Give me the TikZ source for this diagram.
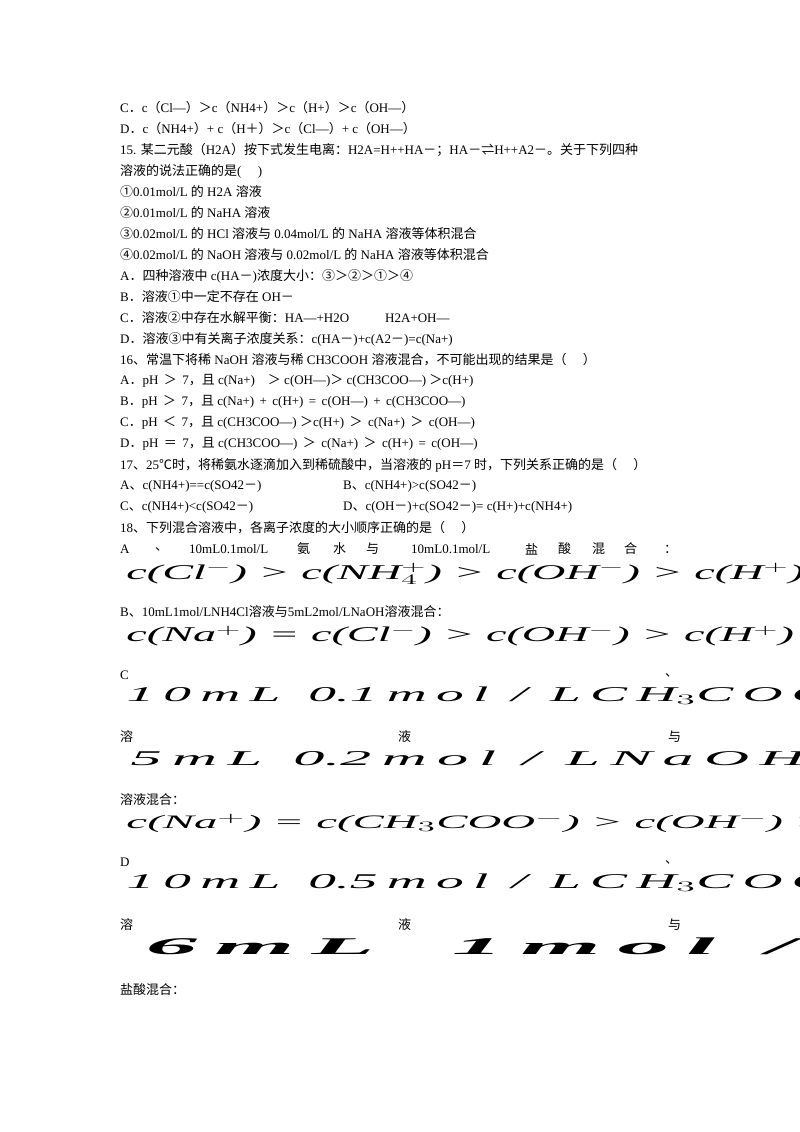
\documentclass[tikz,border=0pt]{standalone}
\usepackage{fontspec}
\setmainfont{Liberation Serif}
\newfontfamily\zh{Noto Sans CJK SC}
\XeTeXinterchartokenstate=1
\newXeTeXintercharclass\CJKcls
\newcount\cc
\def\setrange#1#2{\cc=#1\relax\loop\XeTeXcharclass\cc=\CJKcls\relax\ifnum\cc<#2\advance\cc by 1\repeat}
\setrange{"3000}{"303F}
\setrange{"4E00}{"9FFF}
\setrange{"FF00}{"FFEF}
\setrange{"2460}{"24FF}
\XeTeXcharclass"2103=\CJKcls
\XeTeXcharclass"21CC=\CJKcls
\XeTeXinterchartoks 0 \CJKcls = {\begingroup\zh}
\XeTeXinterchartoks 4095 \CJKcls = {\begingroup\zh}
\XeTeXinterchartoks \CJKcls 0 = {\endgroup}
\XeTeXinterchartoks \CJKcls 4095 = {\endgroup}
\begin{document}
\begin{tikzpicture}[x=1pt,y=-1pt,
  tl/.style={anchor=west,inner sep=0pt,font=\fontsize{13}{13}\selectfont},
  big/.style={anchor=west,inner sep=0pt,font=\fontsize{21}{21}\selectfont\itshape,xscale=2.2}]
\useasboundingbox (0,0) rectangle (800,1132);
\fill[white] (0,0) rectangle (800,1132);
\clip (0,0) rectangle (800,1132);
\node[tl] (l1) at (120,108) {C．c（Cl—）＞c（NH4+）＞c（H+）＞c（OH—）};
\node[tl] (l2) at (120,129) {D．c（NH4+）+ c（H＋）＞c（Cl—）+ c（OH—）};
\node[tl] (l3) at (120,150) {15. 某二元酸（H2A）按下式发生电离：H2A=H++HA－；HA－⇌H++A2－。关于下列四种};
\node[tl] (l4) at (120,171) {溶液的说法正确的是(\quad\ )};
\node[tl] (l5) at (120,192) {①0.01mol/L 的 H2A 溶液};
\node[tl] (l6) at (120,213) {②0.01mol/L 的 NaHA 溶液};
\node[tl] (l7) at (120,234) {③0.02mol/L 的 HCl 溶液与 0.04mol/L 的 NaHA 溶液等体积混合};
\node[tl] (l8) at (120,255) {④0.02mol/L 的 NaOH 溶液与 0.02mol/L 的 NaHA 溶液等体积混合};
\node[tl] (l9) at (120,276) {A．四种溶液中 c(HA－)浓度大小：③＞②＞①＞④};
\node[tl] (l10) at (120,297) {B．溶液①中一定不存在 OH－};
\node[tl] (l11) at (120,318) {C．溶液②中存在水解平衡：HA—+H2O\hspace{36pt}H2A+OH—};
\node[tl] (l12) at (120,339) {D．溶液③中有关离子浓度关系：c(HA－)+c(A2－)=c(Na+)};
\node[tl] (l13) at (120,360) {16、常温下将稀 NaOH 溶液与稀 CH3COOH 溶液混合，不可能出现的结果是（\quad\ ）};
\node[tl] (l14) at (120,381) {A．pH \,＞\, 7，且 c(Na+)\quad ＞ c(OH—)＞ c(CH3COO—) ＞c(H+)};
\node[tl] (l15) at (120,402) {B．pH \,＞\, 7，且 c(Na+) \,+\, c(H+) \,=\, c(OH—) \,+\, c(CH3COO—)};
\node[tl] (l16) at (120,423) {C．pH \,＜\, 7，且 c(CH3COO—) ＞c(H+) \,＞\, c(Na+) \,＞\, c(OH—)};
\node[tl] (l17) at (120,444) {D．pH \,＝\, 7，且 c(CH3COO—) \,＞\, c(Na+) \,＞\, c(H+) \,=\, c(OH—)};
\node[tl] (l18) at (120,465) {17、25℃时，将稀氨水逐滴加入到稀硫酸中，当溶液的 pH＝7 时，下列关系正确的是（\quad\ ）};
\node[tl] (l19) at (120,486) {A、c(NH4+)==c(SO42－)};
\node[tl] (l19b) at (343,486) {B、c(NH4+)>c(SO42－)};
\node[tl] (l20) at (120,507) {C、c(NH4+)<c(SO42－)};
\node[tl] (l20b) at (343,507) {D、c(OH－)+c(SO42－)= c(H+)+c(NH4+)};
\node[tl] (l21) at (120,528) {18、下列混合溶液中，各离子浓度的大小顺序正确的是（\quad\ ）};
\node[tl] (a1) at (120,549) {A};
\node[tl] (a2) at (155,549) {、};
\node[tl] (a3) at (189,549) {10mL0.1mol/L};
\node[tl] (a4) at (297,549) {氨};
\node[tl] (a5) at (333,549) {水};
\node[tl] (a6) at (366,549) {与};
\node[tl] (a7) at (411,549) {10mL0.1mol/L};
\node[tl] (a8) at (525,549) {盐};
\node[tl] (a9) at (558,549) {酸};
\node[tl] (a10) at (592,549) {混};
\node[tl] (a11) at (624,549) {合};
\node[tl] (a12) at (664,549) {：};
\node[big] (m1) at (126,574) {c(Cl$^{-}$) > c(NH$_4^{+}$) > c(OH$^{-}$) > c(H$^{+}$)};
\node[tl] (b1) at (120,612) {B、10mL1mol/LNH4Cl溶液与5mL2mol/LNaOH溶液混合：};
\node[big] (m2) at (126,636) {c(Na$^{+}$) = c(Cl$^{-}$) > c(OH$^{-}$) > c(H$^{+}$)};
\node[tl] (c1) at (120,675) {C};
\node[tl] (c2) at (665,675) {、};
\node[big,xscale=1.2] (m3) at (126,696) {1\,0\,m\,L \ 0.1\,m\,o\,l \,/\, L\,C\,H$_{3}$C\,O\,O\,H};
\node[tl] (c3) at (120,737) {溶};
\node[tl] (c4) at (398,737) {液};
\node[tl] (c5) at (668,737) {与};
\node[big,xscale=1.35] (m4) at (130,758) {5\,m\,L \ 0.2\,m\,o\,l \,/\, L\,N\,a\,O\,H};
\node[tl] (c6) at (120,800) {溶液混合：};
\node[big,font=\fontsize{19}{19}\selectfont\itshape,xscale=1.12] (m5) at (126,823) {c(Na$^{+}$) = c(CH$_{3}$COO$^{-}$) > c(OH$^{-}$) > c(H$^{+}$)};
\node[tl] (d1) at (120,862) {D};
\node[tl] (d2) at (665,862) {、};
\node[big,xscale=1.2] (m6) at (126,883) {1\,0\,m\,L \ 0.5\,m\,o\,l \,/\, L\,C\,H$_{3}$C\,O\,O\,H};
\node[tl] (d3) at (120,925) {溶};
\node[tl] (d4) at (398,925) {液};
\node[tl] (d5) at (668,925) {与};
\node[big,font=\fontsize{24}{24}\selectfont\itshape\bfseries,xscale=1.95] (m7) at (145,946) {6\,m\,L \ \ 1\,m\,o\,l \ /};
\node[tl] (d6) at (120,990) {盐酸混合：};
\end{tikzpicture}
\end{document}
